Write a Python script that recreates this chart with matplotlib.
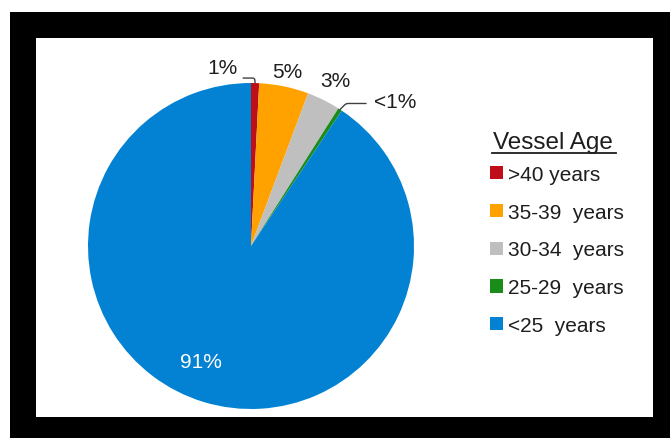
import numpy as np
import matplotlib.pyplot as plt
from matplotlib.patches import Rectangle
from matplotlib.lines import Line2D

plt.rcParams['font.family'] = ['Liberation Sans', 'DejaVu Sans']

# Daten
labels = [">40 years", "35-39  years", "30-34  years", "25-29  years", "<25  years"]
shares = [0.8, 4.9, 3.3, 0.4, 90.6]
pct_text = ["1%", "5%", "3%", "<1%", "91%"]
colors = ["#C00D1A", "#FFA200", "#BFBFBF", "#1A8C1A", "#0382D3"]

W, H = 670, 439
fig = plt.figure(figsize=(W / 100, H / 100), dpi=100)
fig.patch.set_facecolor("white")

# schwarzer Rahmen + weisse Flaeche
fig.add_artist(Rectangle((10 / W, 0), 660 / W, 426 / H, transform=fig.transFigure,
                         facecolor="black", edgecolor="none", zorder=0))
fig.add_artist(Rectangle((36 / W, 21 / H), 617 / W, 379 / H, transform=fig.transFigure,
                         facecolor="white", edgecolor="none", zorder=0))

# Kreisdiagramm
cx, cy, r = 251, 247, 163
ax = fig.add_axes([(cx - r) / W, (H - cy - r) / H, 2 * r / W, 2 * r / H])
ax.set_facecolor("none")
wedges, _ = ax.pie(shares, colors=colors, startangle=90, counterclock=False,
                   radius=1, wedgeprops=dict(linewidth=0))
ax.set_xlim(-1, 1)
ax.set_ylim(-1, 1)
ax.set_aspect("equal")
ax.axis("off")


def edge_point(w):
    a = np.deg2rad((w.theta1 + w.theta2) / 2)
    return np.cos(a), np.sin(a)


TXT_COL = "#1E1E1E"
txt = dict(fontsize=15, color=TXT_COL, ha="center", va="center")

# 1% mit Fuehrungslinie
p = edge_point(wedges[0])
ax.annotate(pct_text[0], xy=p, xytext=(-33, 16), textcoords="offset pixels", **txt)
ax.annotate("", xy=p, xytext=(-12, 5), textcoords="offset pixels",
            arrowprops=dict(arrowstyle="-", color="#404040", lw=1,
                            connectionstyle="angle,angleA=0,angleB=95,rad=2",
                            shrinkA=0, shrinkB=0))

# 5% und 3%
p = edge_point(wedges[1])
ax.annotate(pct_text[1], xy=p, xytext=(3, 15), textcoords="offset pixels", **txt)
p = edge_point(wedges[2])
ax.annotate(pct_text[2], xy=p, xytext=(12, 20), textcoords="offset pixels", **txt)

# <1% mit Fuehrungslinie
p = edge_point(wedges[3])
ax.annotate(pct_text[3], xy=p, xytext=(55, 8), textcoords="offset pixels", **txt)
ax.annotate("", xy=p, xytext=(26, 6), textcoords="offset pixels",
            arrowprops=dict(arrowstyle="-", color="#404040", lw=1,
                            connectionstyle="angle,angleA=180,angleB=225,rad=2",
                            shrinkA=0, shrinkB=0))

# 91% im Kreis
ax.text(-0.31, -0.71, pct_text[4], fontsize=15, color="white", ha="center", va="center")

# Legende
fig.text(553 / W, 1 - 143 / H, "Vessel Age", fontsize=17.5, color=TXT_COL,
         ha="center", va="center")
fig.add_artist(Line2D([492 / W, 616 / W], [1 - 154 / H, 1 - 154 / H],
                      transform=fig.transFigure, color=TXT_COL, lw=1.3))
fig.legend(wedges, labels, loc="upper left", bbox_to_anchor=(490 / W, 1 - 166 / H),
           frameon=False, fontsize=15, labelcolor=TXT_COL,
           handlelength=0.6, handleheight=0.6, handletextpad=0.25,
           labelspacing=0.9, borderpad=0, borderaxespad=0)

fig.savefig("out.png", dpi=100, facecolor="white")
